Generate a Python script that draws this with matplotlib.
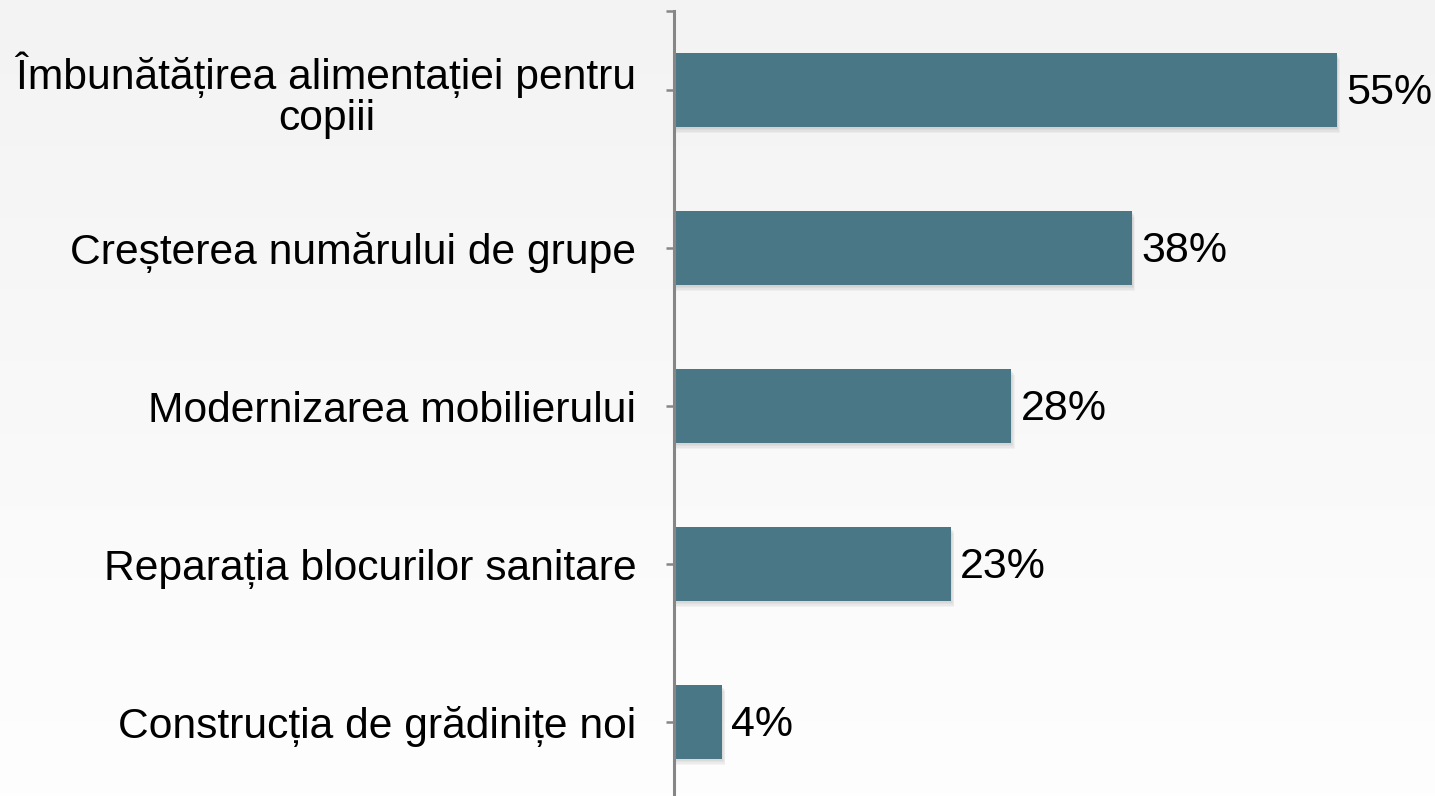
import matplotlib.pyplot as plt
import numpy as np
from matplotlib.patches import Rectangle

categorii = ["Îmbunătățirea alimentației pentru\ncopiii",
             "Creșterea numărului de grupe",
             "Modernizarea mobilierului",
             "Reparația blocurilor sanitare",
             "Construcția de grădinițe noi"]
valori = [55, 38, 28, 23, 4]
etichete = ["55%", "38%", "28%", "23%", "4%"]

plt.rcParams['font.family'] = ['Liberation Sans', 'DejaVu Sans']

fig = plt.figure(figsize=(14.35, 7.96), dpi=100)

# fundal cu gradient
fundal = fig.add_axes([0, 0, 1, 1], zorder=-10)
grad = np.linspace(0, 1, 256).reshape(-1, 1)
fundal.imshow(grad, aspect='auto', cmap=plt.matplotlib.colors.LinearSegmentedColormap.from_list(
    'g', ['#f3f3f3', '#fefefe']), extent=[0, 1, 0, 1])
fundal.axis('off')

ax = fig.add_axes([674 / 1435, 0, 1 - 674 / 1435, 1 - 11 / 796])
ax.patch.set_alpha(0)

y = np.arange(len(valori))
h = 0.47
culoare = '#4a7786'

# umbra barelor (moale)
for i, v in zip(y, valori):
    for k in range(4):
        d = 0.012 + k * 0.008
        ax.add_patch(Rectangle((0, i - h / 2 + d), v + 0.08 + k * 0.06, h,
                               color='black', alpha=0.035, lw=0, zorder=1))
ax.barh(y, valori, height=h, color=culoare, zorder=2)

for i, v, t in zip(y, valori, etichete):
    ax.annotate(t, (v, i), xytext=(6.5, -2), textcoords='offset points',
                va='center', ha='left', fontsize=31, color='black')

ax.set_xlim(0, 63.15)
ax.set_ylim(4.468, -0.5)
ax.set_xticks([])
ax.set_yticks([-0.5] + list(y))
ax.set_yticklabels([''] + categorii, fontsize=30.7, multialignment='center', linespacing=1.05)
ax.tick_params(axis='y', length=6, width=1.8, color='#868686', pad=21)
for s in ['top', 'right', 'bottom']:
    ax.spines[s].set_visible(False)
ax.spines['left'].set_color('#868686')
ax.spines['left'].set_linewidth(2.2)

fig.savefig('out.png', dpi=100)
